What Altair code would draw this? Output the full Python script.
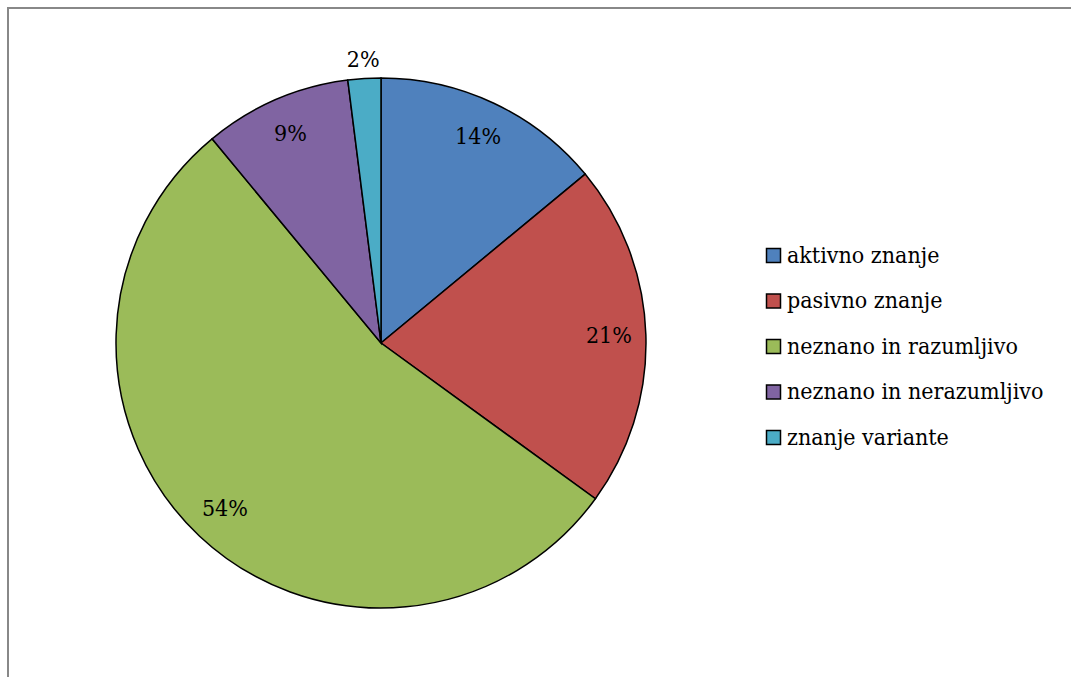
import altair as alt
import pandas as pd

categories = ["aktivno znanje", "pasivno znanje", "neznano in razumljivo",
              "neznano in nerazumljivo", "znanje variante"]
values = [14, 21, 54, 9, 2]
colors = ["#4F81BD", "#C0504D", "#9BBB59", "#8064A2", "#4BACC6"]

df = pd.DataFrame({
    "kategorija": categories,
    "value": values,
    "idx": list(range(len(categories))),
})
df["label"] = df["value"].astype(str) + "%"

CX, CY, R = 381, 343, 265
FONT = "DejaVu Serif Condensed"

base = alt.Chart(df).encode(
    theta=alt.Theta("value:Q", stack=True),
    order=alt.Order("idx:Q"),
)

color = alt.Color(
    "kategorija:N",
    scale=alt.Scale(domain=categories, range=colors),
    sort=categories,
    legend=alt.Legend(
        title=None, orient="none", legendX=762, legendY=244,
        symbolType="square", symbolSize=196, symbolStrokeColor="black",
        symbolStrokeWidth=1.5, symbolOpacity=1,
        labelFont=FONT, labelFontSize=23, labelColor="black",
        labelLimit=400, rowPadding=21.5, labelOffset=2,
    ),
)

pie = base.mark_arc(stroke="black", strokeWidth=1.5).encode(
    color=color,
    x=alt.value(CX), y=alt.value(CY), radius=alt.value(R),
)

labels_in = base.mark_text(font=FONT, fontSize=23, color="black",
                           align="center", baseline="middle").encode(
    text="label:N", x=alt.value(CX), y=alt.value(CY), radius=alt.value(228),
    opacity=alt.condition("datum.value >= 5", alt.value(1), alt.value(0)),
)
labels_out = base.mark_text(font=FONT, fontSize=23, color="black",
                            align="center", baseline="middle").encode(
    text="label:N", x=alt.value(CX), y=alt.value(CY), radius=alt.value(284),
    opacity=alt.condition("datum.value < 5", alt.value(1), alt.value(0)),
)

frame_left = alt.Chart(pd.DataFrame({"a": [0]})).mark_rule(color="#888888", strokeWidth=2).encode(
    x=alt.value(8), y=alt.value(7), y2=alt.value(700))
frame_top = alt.Chart(pd.DataFrame({"a": [0]})).mark_rule(color="#888888", strokeWidth=2).encode(
    x=alt.value(7), x2=alt.value(1100), y=alt.value(8))

chart = alt.layer(frame_left, frame_top, pie, labels_in, labels_out).properties(
    width=1071, height=677, padding=0, background="white",
    autosize=alt.AutoSizeParams(type="none"),
).configure_view(stroke=None)

chart.save("out.html", embed_options={"renderer": "svg", "actions": False})
